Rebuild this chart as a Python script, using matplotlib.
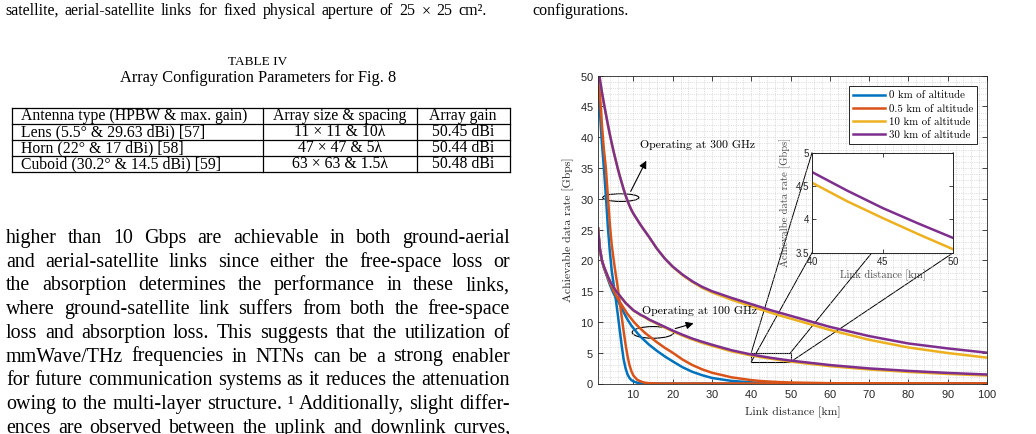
import matplotlib
matplotlib.use("Agg")
import matplotlib.pyplot as plt
from matplotlib.patches import Ellipse, Rectangle, ConnectionPatch

plt.rcParams['font.family'] = 'Liberation Sans'
plt.rcParams['axes.formatter.use_mathtext'] = True

W, H = 1036, 434

# link distance [km]
dist = [1, 1.5, 2, 2.5, 3, 3.5, 4, 4.5, 5, 5.5, 6, 6.5, 7, 7.5, 8, 8.5, 9, 9.5, 10,
        11, 12, 13, 14, 16, 18, 20, 22.5, 25, 27.5, 30, 35, 40, 42.5, 45, 47.5, 50,
        60, 70, 80, 90, 100]

# achievable data rate [Gbps] at 300 GHz
rate300_0km = [55, 44, 39, 35, 30.5, 25.5, 21.5, 18.3, 16.0, 13.8, 11.4, 8.8, 6.3, 4.0, 2.5, 1.5, 0.9, 0.55, 0.35,
               0.12, 0.04, 0.01, 0, 0, 0, 0, 0, 0, 0, 0, 0, 0, 0, 0, 0, 0,
               0, 0, 0, 0, 0]
rate300_05km = [56, 47, 42, 38, 35, 30.5, 26, 22.5, 20, 17.8, 15.7, 13.3, 11.0, 8.6, 6.4, 4.5, 3.0, 2.0, 1.3,
                0.6, 0.3, 0.12, 0.05, 0.01, 0, 0, 0, 0, 0, 0, 0, 0, 0, 0, 0, 0,
                0, 0, 0, 0, 0]
rate300_10km = [52.5, 49.3, 47.3, 45.5, 43.8, 42.1, 40.5, 39.0, 37.6, 36.3, 35.0, 33.8, 32.7, 31.6, 30.6, 29.7, 28.9, 28.2, 27.6,
                26.6, 25.6, 24.7, 23.8, 21.9, 20.3, 18.95, 17.6, 16.5, 15.55, 14.8, 13.6, 12.55, 12.0, 11.5, 11.0, 10.55,
                8.7, 7.1, 5.85, 4.95, 4.2]
rate300_30km = [52.5, 49.3, 47.3, 45.5, 43.8, 42.1, 40.5, 39.0, 37.6, 36.3, 35.0, 33.8, 32.7, 31.6, 30.6, 29.7, 28.9, 28.2, 27.6,
                26.6, 25.6, 24.7, 23.8, 21.9, 20.3, 19.0, 17.7, 16.6, 15.7, 15.0, 13.9, 12.9, 12.4, 11.9, 11.45, 11.0,
                9.2, 7.7, 6.5, 5.7, 5.0]

# achievable data rate [Gbps] at 100 GHz
rate100_0km = [25.2, 21.7, 19.9, 18.8, 17.9, 17.0, 16.1, 15.3, 14.6, 14.0, 13.5, 12.9, 12.3, 11.6, 11.0, 10.4, 9.9, 9.4, 9.0,
               8.2, 7.5, 6.9, 6.3, 5.3, 4.4, 3.6, 2.65, 1.9, 1.35, 0.9, 0.42, 0.18, 0.12, 0.08, 0.06, 0.04,
               0.01, 0, 0, 0, 0]
rate100_05km = [25.2, 21.75, 19.95, 18.9, 18.0, 17.2, 16.4, 15.7, 15.0, 14.4, 13.8, 13.3, 12.8, 12.3, 11.8, 11.3, 10.9, 10.5, 10.1,
                9.4, 8.8, 8.2, 7.7, 6.7, 5.8, 5.0, 3.9, 3.0, 2.3, 1.75, 1.0, 0.55, 0.4, 0.3, 0.22, 0.16,
                0.05, 0.02, 0.01, 0, 0]
rate100_10km = [25.2, 21.8, 20.0, 19.0, 18.2, 17.4, 16.7, 16.1, 15.6, 15.1, 14.7, 14.3, 13.9, 13.5, 13.1, 12.8, 12.5, 12.2, 11.85,
                11.45, 11.05, 10.72, 10.32, 9.7, 9.08, 8.47, 7.78, 7.15, 6.6, 6.12, 5.22, 4.55, 4.27, 4.02, 3.78, 3.55,
                2.82, 2.28, 1.88, 1.55, 1.3]
rate100_30km = [25.2, 21.8, 20.0, 19.0, 18.2, 17.4, 16.7, 16.1, 15.6, 15.1, 14.7, 14.3, 13.9, 13.5, 13.1, 12.8, 12.5, 12.2, 11.9,
                11.5, 11.1, 10.8, 10.4, 9.8, 9.2, 8.6, 7.92, 7.3, 6.78, 6.3, 5.4, 4.71, 4.43, 4.17, 3.94, 3.72,
                3.0, 2.45, 2.05, 1.72, 1.46]

altitudes = ['0 km of altitude', '0.5 km of altitude', '10 km of altitude', '30 km of altitude']
colors = ['#0072BD', '#D95319', '#EDB120', '#7E2F8E']
series = [(rate300_0km, rate100_0km), (rate300_05km, rate100_05km),
          (rate300_10km, rate100_10km), (rate300_30km, rate100_30km)]

# table IV
table_header = ['Antenna type (HPBW & max. gain)', 'Array size & spacing', 'Array gain']
antenna_types = ['Lens (5.5° & 29.63 dBi) [57]', 'Horn (22° & 17 dBi) [58]', 'Cuboid (30.2° & 14.5 dBi) [59]']
array_sizes = ['11 × 11 & 10λ', '47 × 47 & 5λ', '63 × 63 & 1.5λ']
array_gains = ['50.45 dBi', '50.44 dBi', '50.48 dBi']

body_lines = [
    'higher than 10 Gbps are achievable in both ground-aerial',
    'and aerial-satellite links since either the free-space loss or',
    'the absorption determines the performance in these links,',
    'where ground-satellite link suffers from both the free-space',
    'loss and absorption loss. This suggests that the utilization of',
    'mmWave/THz frequencies in NTNs can be a strong enabler',
    'for future communication systems as it reduces the attenuation',
    'owing to the multi-layer structure. ¹ Additionally, slight differ-',
    'ences are observed between the uplink and downlink curves,',
]

fig = plt.figure(figsize=(W / 100, H / 100), dpi=100)
renderer = fig.canvas.get_renderer()

# page layer in pixel coordinates
page = fig.add_axes([0, 0, 1, 1])
page.set_xlim(0, W)
page.set_ylim(H, 0)
page.axis('off')
serif = 'Liberation Serif'


def word_widths(words, size):
    inv = page.transData.inverted()
    widths = []
    for w in words:
        t = page.text(0, 0, w, fontsize=size, family=serif)
        bb = t.get_window_extent(renderer)
        widths.append(inv.transform((bb.x1, 0))[0] - inv.transform((bb.x0, 0))[0])
        t.remove()
    return widths


def justified(text, y, x0, x1, size):
    words = text.split()
    widths = word_widths(words, size)
    gap = (x1 - x0 - sum(widths)) / (len(words) - 1)
    x = x0
    for w, wd in zip(words, widths):
        page.text(x, y, w, fontsize=size, family=serif, va='baseline')
        x += wd + gap


justified('satellite, aerial-satellite links for fixed physical aperture of 25 × 25 cm².', 15, 5, 487, 11.5)
page.text(532, 15, 'configurations.', fontsize=11.5, family=serif, va='baseline')

page.text(258, 62, 'TABLE IV', fontsize=9.5, family=serif, ha='center', va='center')
page.text(258, 78, 'Array Configuration Parameters for Fig. 8', fontsize=11.8, family=serif, ha='center', va='center')

col_x = [12, 263, 417, 510]
row_y = [108, 124, 140, 156, 172]
for x in col_x:
    page.plot([x, x], [row_y[0], row_y[-1]], color='k', lw=0.9)
for y in row_y:
    page.plot([col_x[0], col_x[-1]], [y, y], color='k', lw=0.9)
rows = [table_header] + [list(r) for r in zip(antenna_types, array_sizes, array_gains)]
for i, row in enumerate(rows):
    yc = (row_y[i] + row_y[i + 1]) / 2 + 0.5
    page.text(21, yc, row[0], fontsize=11.3, family=serif, va='center')
    page.text(340, yc, row[1], fontsize=11.3, family=serif, va='center', ha='center')
    page.text(463, yc, row[2], fontsize=11.3, family=serif, va='center', ha='center')

# one common body size: the largest that keeps a normal word gap on every line
body_size = 15.6
while True:
    ok = True
    for line in body_lines:
        words = line.split()
        gap = (504 - sum(word_widths(words, body_size))) / (len(words) - 1)
        if gap < 0.24 * body_size * 1.389:
            ok = False
            break
    if ok:
        break
    body_size -= 0.2
for i, line in enumerate(body_lines):
    justified(line, 243 + 23.7 * i, 6, 510, body_size)

# main chart
ax = fig.add_axes([598 / W, 1 - 383.5 / H, 389 / W, 307.8 / H])
for (r300, r100), c, lab in zip(series, colors, altitudes):
    ax.plot(dist, r300, color=c, lw=1.8, label=lab)
    ax.plot(dist, r100, color=c, lw=1.8)
ax.set_xlim(1, 100)
ax.set_ylim(0, 50)
ax.set_xticks(range(10, 101, 10))
ax.set_yticks(range(0, 51, 5))
ax.set_xticks(range(2, 101, 2), minor=True)
ax.set_yticks(range(0, 51, 1), minor=True)
ax.grid(which='both', linestyle=':', linewidth=0.5, color='#c4c4c4')
ax.tick_params(which='major', direction='in', top=True, right=True, length=3.5, width=0.6,
               labelsize=8, colors='#262626', pad=3)
ax.tick_params(which='minor', length=0)
for s in ax.spines.values():
    s.set_linewidth(0.6)
    s.set_color('#262626')
ax.set_xlabel('Link distance [km]', family='cmr10', fontsize=8.5, color='#262626')
ax.set_ylabel('Achievable data rate [Gbps]', family='cmr10', fontsize=8.5, color='#262626')
ax.xaxis.set_label_coords(0.5, -0.075)
ax.yaxis.set_label_coords(-0.062, 0.5)

leg = ax.legend(loc='upper right', bbox_to_anchor=(0.975, 0.965), borderaxespad=0,
                prop={'family': 'cmr10', 'size': 7.8}, fancybox=False, framealpha=1,
                edgecolor='#262626', handlelength=3.0, handletextpad=0.3,
                labelspacing=0.33, borderpad=0.4)
leg.get_frame().set_linewidth(0.7)

# annotations
ax.add_patch(Ellipse((6.8, 30.2), 9.2, 1.25, fill=False, color='k', lw=0.8))
ax.annotate('', xy=(13.6, 36.6), xytext=(9.0, 30.8),
            arrowprops=dict(arrowstyle='-|>', color='k', lw=0.8, mutation_scale=11))
ax.text(11.8, 38.7, 'Operating at 300 GHz', family='cmr10', fontsize=8.5, va='center')

ax.add_patch(Ellipse((15.0, 8.3), 10.6, 1.9, fill=False, color='k', lw=0.8))
ax.annotate('', xy=(26.0, 9.9), xytext=(20.0, 8.8),
            arrowprops=dict(arrowstyle='-|>', color='k', lw=0.8, mutation_scale=11))
ax.text(12.2, 11.8, 'Operating at 100 GHz', family='cmr10', fontsize=8.5, va='center')

# zoom box and inset
zx0, zx1, zy0, zy1 = 40, 50, 3.5, 5
ax.add_patch(Rectangle((zx0, zy0), zx1 - zx0, zy1 - zy0, fill=False, color='k', lw=0.8))

axin = fig.add_axes([812 / W, 1 - 252.7 / H, 141.3 / W, 100 / H])
axin.set_facecolor('white')
for (r300, r100), c in zip(series, colors):
    axin.plot(dist, r300, color=c, lw=1.8)
    axin.plot(dist, r100, color=c, lw=1.8)
axin.set_xlim(zx0, zx1)
axin.set_ylim(zy0, zy1)
axin.set_xticks([40, 45, 50])
axin.set_yticks([3.5, 4, 4.5, 5])
axin.set_yticklabels(['3.5', '4', '4.5', '5'])
axin.tick_params(direction='in', top=True, right=True, length=3, width=0.6,
                 labelsize=7, colors='#262626', pad=2)
for s in axin.spines.values():
    s.set_linewidth(0.7)
    s.set_color('#262626')
axin.set_xlabel('Link distance [km]', family='cmr10', fontsize=7.6, color='#4d4d4d')
axin.set_ylabel('Achievalbe data rate [Gbps]', family='cmr10', fontsize=7.6, color='#4d4d4d')
axin.xaxis.set_label_coords(0.5, -0.17)
axin.yaxis.set_label_coords(-0.15, 0.5)

for pa, pb in [((zx0, zy1), (zx0, zy1)), ((zx0, zy0), (zx0, zy0)),
               ((zx1, zy1), (zx1, zy1)), ((zx1, zy0), (zx1, zy0))]:
    con = ConnectionPatch(xyA=pa, coordsA=ax.transData, xyB=pb, coordsB=axin.transData,
                          color='k', lw=0.7)
    ax.add_artist(con)

fig.savefig('out.png', dpi=100)
